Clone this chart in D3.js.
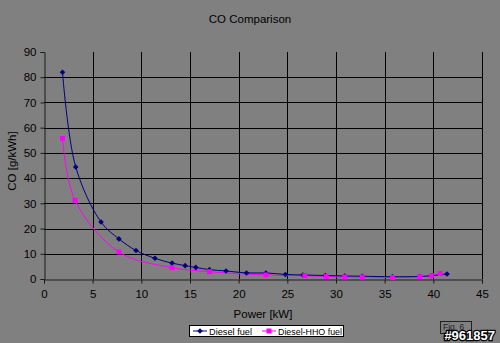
<!DOCTYPE html>
<html><head><meta charset="utf-8">
<script src="https://cdn.jsdelivr.net/npm/d3@7"></script>
<style>body{margin:0;background:#808080}svg{display:block}</style>
</head><body>
<script>
const title = "CO Comparison";
const xLabel = "Power [kW]";
const yLabel = "CO [g/kWh]";
const seriesNames = ["Diesel fuel", "Diesel-HHO fuel"];
const dieselX = [1.9, 3.26, 5.86, 7.7, 9.45, 11.4, 13.15, 14.5, 15.6, 17.0, 18.7, 20.8, 22.8, 24.8, 26.6, 28.9, 30.9, 32.7, 35.8, 38.6, 39.8, 41.4];
const dieselY = [82.0, 44.4, 22.6, 15.9, 11.3, 8.2, 6.3, 5.3, 4.6, 3.7, 3.2, 2.4, 2.4, 1.8, 1.6, 1.4, 1.2, 1.1, 0.9, 1.0, 1.3, 2.0];
const hhoX = [1.9, 3.19, 7.7, 13.15, 17.0, 22.8, 26.8, 29.0, 30.9, 32.7, 35.8, 38.6, 39.8, 40.7];
const hhoY = [55.7, 31.2, 10.7, 4.5, 2.9, 1.6, 1.3, 1.0, 0.8, 0.8, 0.6, 0.9, 1.3, 2.2];
const xTicks = [0, 5, 10, 15, 20, 25, 30, 35, 40, 45];
const yTicks = [0, 10, 20, 30, 40, 50, 60, 70, 80, 90];

const W = 500, H = 343;
const m = {left: 44, right: 18, top: 52, bottom: 64};
const svg = d3.select("body").append("svg").attr("width", W).attr("height", H);
svg.append("rect").attr("width", W).attr("height", H).attr("fill", "#808080");

const x = d3.scaleLinear().domain([0, 45]).range([m.left, W - m.right]);
const y = d3.scaleLinear().domain([0, 90]).range([H - m.bottom, m.top]);
const font = "Arial, 'Liberation Sans', sans-serif";

// gridlines
svg.append("g").selectAll("line").data(yTicks.filter(d => d > 0 && d < 90)).join("line")
  .attr("x1", x(0)).attr("x2", x(45)).attr("y1", d => Math.round(y(d)) + 0.5).attr("y2", d => Math.round(y(d)) + 0.5)
  .attr("stroke", "#000").attr("stroke-width", 1);
svg.append("g").selectAll("line").data(xTicks.filter(d => d > 0)).join("line")
  .attr("y1", y(0)).attr("y2", y(90)).attr("x1", d => Math.round(x(d)) + 0.5).attr("x2", d => Math.round(x(d)) + 0.5)
  .attr("stroke", "#000").attr("stroke-width", 1);

// axes
const xAxis = svg.append("g").attr("transform", `translate(0,${Math.round(y(0)) + 0.5})`)
  .call(d3.axisBottom(x).tickValues(xTicks).tickSize(4).tickPadding(6).tickFormat(d3.format("d")));
const yAxis = svg.append("g").attr("transform", `translate(${Math.round(x(0)) + 0.5},0)`)
  .call(d3.axisLeft(y).tickValues(yTicks).tickSize(4).tickPadding(4).tickFormat(d3.format("d")));
[xAxis, yAxis].forEach(a => {
  a.select(".domain").attr("stroke", "#1a1a1a");
  a.selectAll(".tick line").attr("stroke", "#1a1a1a");
  a.selectAll("text").attr("font-family", font).attr("font-size", 11.5).attr("fill", "#000");
});

// series
const dData = dieselX.map((v, i) => [v, dieselY[i]]);
const hData = hhoX.map((v, i) => [v, hhoY[i]]);
const line = d3.line().x(d => x(d[0])).y(d => y(d[1])).curve(d3.curveCatmullRom.alpha(0.5));
svg.append("path").datum(hData).attr("d", line).attr("fill", "none").attr("stroke", "#ff00ff").attr("stroke-width", 1);
svg.append("path").datum(dData).attr("d", line).attr("fill", "none").attr("stroke", "#000080").attr("stroke-width", 1);
const diamond = "M0,-2.8L2.8,0L0,2.8L-2.8,0Z";
svg.append("g").selectAll("path").data(dData).join("path")
  .attr("transform", d => `translate(${x(d[0])},${y(d[1])})`).attr("d", diamond).attr("fill", "#000080");
svg.append("g").selectAll("rect").data(hData).join("rect")
  .attr("x", d => x(d[0]) - 2.5).attr("y", d => y(d[1]) - 2.5).attr("width", 5).attr("height", 5).attr("fill", "#ff00ff");

// titles
svg.append("text").attr("x", 250).attr("y", 23).attr("text-anchor", "middle")
  .attr("font-family", font).attr("font-size", 11.5).text(title);
svg.append("text").attr("x", (x(0) + x(45)) / 2).attr("y", 318).attr("text-anchor", "middle")
  .attr("font-family", font).attr("font-size", 11.5).text(xLabel);
svg.append("text").attr("transform", `translate(16,161) rotate(-90)`).attr("text-anchor", "middle")
  .attr("font-family", font).attr("font-size", 11.5).text(yLabel);

// legend
const lg = svg.append("g");
lg.append("rect").attr("x", 189.5).attr("y", 325.5).attr("width", 154).attr("height", 11).attr("fill", "#fff").attr("stroke", "#000");
const items = [{name: seriesNames[0], color: "#000080", x0: 193, shape: "d"}, {name: seriesNames[1], color: "#ff00ff", x0: 262, shape: "s"}];
items.forEach(it => {
  lg.append("line").attr("x1", it.x0).attr("x2", it.x0 + 14).attr("y1", 331).attr("y2", 331).attr("stroke", it.color);
  if (it.shape === "d") lg.append("path").attr("transform", `translate(${it.x0 + 7},331)`).attr("d", diamond).attr("fill", it.color);
  else lg.append("rect").attr("x", it.x0 + 4.5).attr("y", 328.5).attr("width", 5).attr("height", 5).attr("fill", it.color);
  lg.append("text").attr("x", it.x0 + 16).attr("y", 335).attr("font-family", font).attr("font-size", 9.5)
    .attr("textLength", it.shape === "d" ? 43 : 64).attr("lengthAdjust", "spacingAndGlyphs").text(it.name);
});

// Fig. 6 box and watermark
svg.append("rect").attr("x", 440.5).attr("y", 321.5).attr("width", 31).attr("height", 12).attr("fill", "none").attr("stroke", "#222");
svg.append("text").attr("x", 443).attr("y", 330).attr("font-family", font).attr("font-size", 8.5).attr("fill", "#222").text("Fig. 6");
svg.append("text").attr("x", 495).attr("y", 340).attr("text-anchor", "end").attr("font-family", font)
  .attr("font-size", 13).attr("font-weight", "bold").attr("fill", "#fff").attr("stroke", "#000").attr("stroke-width", 2.5)
  .attr("paint-order", "stroke").text("#961857");
</script>
</body></html>
